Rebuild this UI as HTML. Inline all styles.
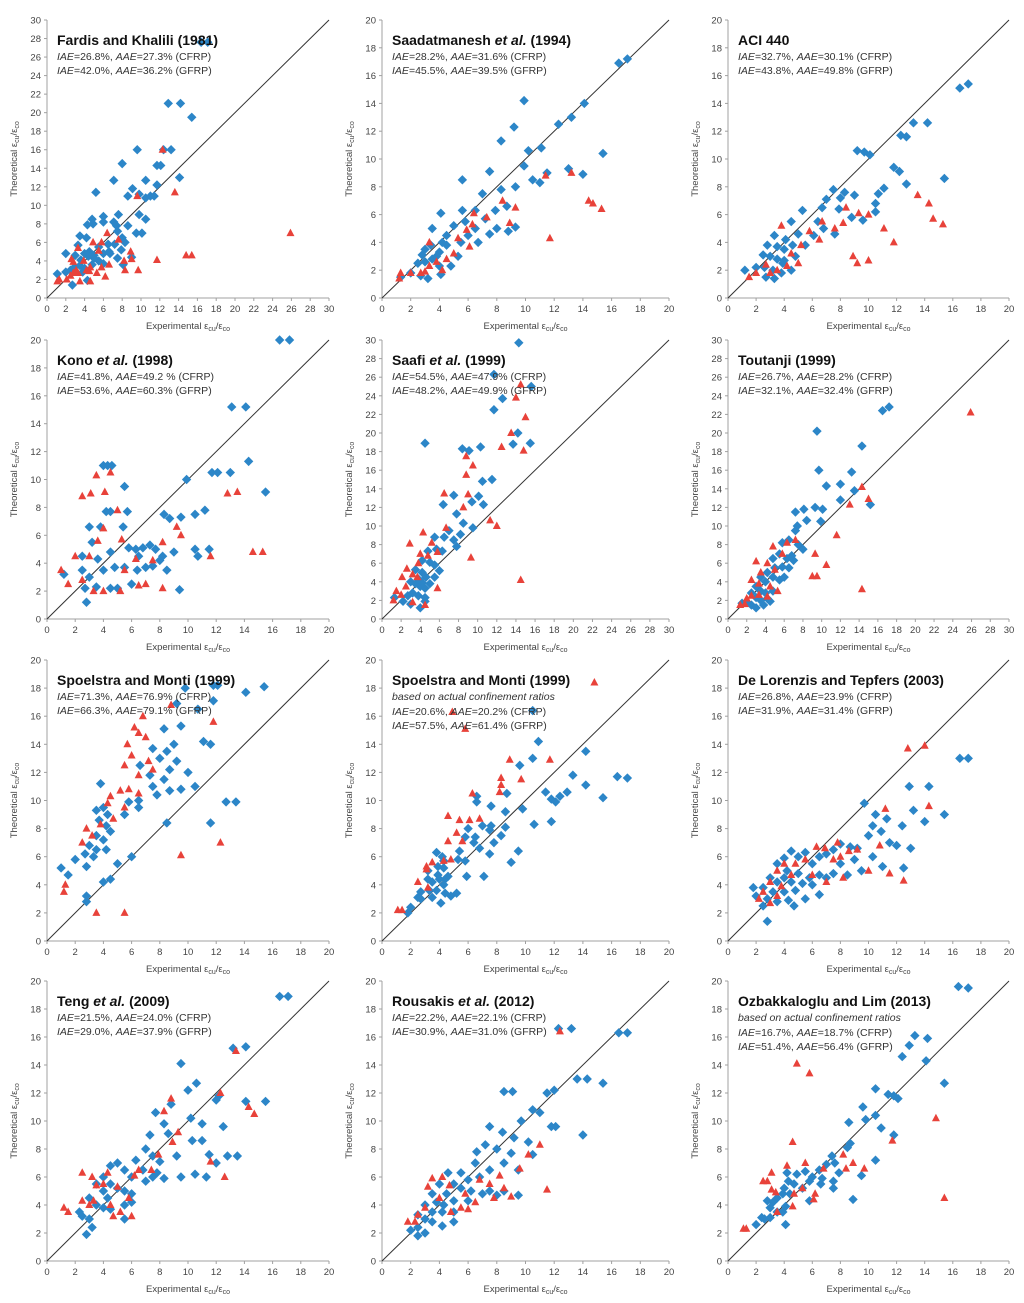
<!DOCTYPE html>
<html><head><meta charset="utf-8">
<style>
body{margin:0;background:#fff;width:1024px;height:1303px;overflow:hidden}
svg{display:block;font-family:"Liberation Sans",sans-serif}
</style></head>
<body>
<svg id="chart" width="1024" height="1303" viewBox="0 0 1024 1303"></svg>
<script>
// ---- data (experimental, theoretical) per panel ----
const blue1=[[16.4,27.6],[17.1,27.6],[12.9,21],[14.2,21],[15.4,19.5],[9.6,16],[12.4,16],[13.2,16],[8,14.5],[11.7,14.3],[12.1,14.3],[7.1,12.7],[10.5,12.7],[14.1,13],[11.7,12.2],[5.2,11.4],[9.1,11.8],[8.6,11],[10.5,10.8],[11,11],[11.4,11],[9.8,11.2],[6,8.8],[7.6,9],[9.8,9],[10.5,8.5],[4.8,8.5],[4.3,7.9],[4.9,8],[6,8.2],[7.1,8.2],[7.4,7.8],[8.6,7.8],[7.5,7.2],[9.5,7],[10.1,7],[3.5,6.7],[4.2,6.5],[3.3,5.7],[5.5,5.5],[6.5,5.8],[7.2,5.8],[8.3,6],[8,6.5],[2,4.8],[3,4.6],[4.5,5],[4,4.8],[5,4.6],[6,4.8],[6.6,5],[7.5,4.3],[7.9,5.2],[9,4.4],[2,2.8],[2.5,3],[2.9,3.3],[3.5,3.5],[4,3.2],[4.8,3.6],[5.5,4],[6,3.7],[6.7,4.8],[1.1,2.6],[2.7,1.4],[4.3,1.9],[3.8,2.8],[5,4.3],[8.1,3.6],[4.4,4.5],[3.6,4.1]];
const red1=[[12.3,16],[9.6,11],[13.6,11.4],[25.9,7],[14.8,4.6],[15.4,4.6],[11.7,4.1],[9.7,3],[8.9,5],[9,4.2],[8.2,4],[8.3,3],[6.4,7],[5.8,6],[4.9,6],[3.3,5.4],[5.5,5.1],[7.6,6.3],[6.2,2.3],[6.6,3.6],[5.3,2.7],[4.5,2.9],[4.6,1.8],[3.5,1.8],[2.5,2.4],[2.1,2],[1.3,2],[1.1,1.8],[2.8,3.9],[3.1,3],[3.9,4],[4.2,3],[3.3,2.7],[2.8,2.7],[5.8,3.3],[4.6,3.3],[2.6,4.2]];
const blue2=[[16.5,16.9],[17.1,17.2],[9.9,14.2],[14.1,14],[13.2,13],[12.3,12.5],[9.2,12.3],[8.3,11.3],[11.1,10.8],[15.4,10.4],[10.2,10.6],[7.5,9.1],[9.9,9.5],[11.5,9],[13,9.3],[14,8.9],[5.6,8.5],[7,7.5],[8.3,7.8],[9.3,8],[10.5,8.5],[11,8.3],[6.5,6.3],[5.6,6.3],[5.8,5.5],[7.9,6.3],[8.7,6.6],[4.1,6.1],[3.5,5],[4.5,4.5],[5,5.2],[6.5,5],[7.2,5.7],[7.5,4.6],[8,5],[8.8,4.8],[9.3,5.1],[3,3.5],[3.4,3.8],[4,3.3],[4.5,3.8],[5.5,4],[6,4.5],[6.7,4],[2.5,2.5],[3,2.6],[3.5,2.8],[4,2.3],[4.8,2.3],[5.3,3],[2,1.8],[2.7,1.6],[3.2,1.4],[4.1,1.7],[1.3,1.5],[3.8,3],[2.8,3.1],[4.2,4]];
const red2=[[13.2,9],[11.4,8.8],[14.4,7],[14.7,6.8],[15.3,6.4],[11.7,4.3],[9.3,6.5],[8.4,7],[8.9,5.4],[7.3,5.8],[6.4,6.1],[6.3,5.3],[5.9,4.9],[5.3,4.3],[6.1,3.7],[5,3.2],[4.5,2.8],[3.8,2.6],[3,1.9],[3.3,2.3],[2.7,1.8],[2,1.8],[1.3,1.8],[1.2,1.4],[4.2,2],[3.3,4]];
const blue3=[[16.5,15.1],[17.1,15.4],[13.2,12.6],[14.2,12.6],[12.3,11.7],[12.7,11.6],[9.2,10.6],[9.7,10.5],[10.1,10.3],[11.8,9.4],[12.2,9.1],[15.4,8.6],[7.5,7.8],[8.3,7.6],[9,7.4],[10.7,7.5],[11.1,7.9],[12.7,8.2],[7,7.1],[8,7.2],[10.5,6.8],[10.5,6.2],[5.3,6.3],[6.7,6.5],[7.9,6.4],[8.8,5.8],[9.6,5.6],[4.5,5.5],[6.4,5.5],[3.3,4.5],[4.1,4.2],[5,4.6],[6.1,4.5],[6.8,5],[7.6,4.6],[2.8,3.8],[3.5,3.7],[4,3.5],[4.6,3.8],[5.5,3.8],[2.5,3.1],[3,3],[3.5,2.8],[4,2.7],[4.8,3],[2,2.2],[2.6,2.2],[3.2,2],[3.8,1.8],[4.5,2],[1.2,2],[2.7,1.5],[3.3,1.4],[3.9,2.5]];
const red3=[[13.5,7.4],[14.3,6.8],[14.6,5.7],[15.3,5.3],[11.8,4],[11.1,5],[10,6],[9.3,6.1],[8.4,6.5],[8.2,5.4],[7.6,5],[6.7,5.5],[6.5,4.2],[5.8,4.8],[5.2,3.8],[5,2.5],[4.5,3.2],[4.2,2.3],[3.5,2],[3,1.8],[2.7,2.4],[1.5,1.5],[2,1.8],[3.8,5.2],[8.9,3],[10,2.7],[9.2,2.5]];
const blue4=[[16.5,20],[17.2,20],[13.1,15.2],[14.1,15.2],[14.3,11.3],[15.5,9.1],[11.7,10.5],[12.1,10.5],[13,10.5],[9.9,10],[4,11],[4.3,11],[4.6,11],[5.5,9.5],[4.2,7.7],[4.5,7.7],[5.7,7.7],[3,6.6],[3.8,6.6],[5.4,6.6],[8.3,7.5],[8.7,7.2],[9.5,7.3],[10.5,7.5],[11.2,7.8],[2.5,4.5],[3.2,5.5],[3.6,4.3],[4.5,4.8],[5.8,5.1],[6.3,5],[6.8,5.1],[7.3,5.3],[7.7,5],[8.2,4.5],[9,4.8],[10.5,5],[10.7,4.5],[11.5,5],[2.5,3.5],[3,3],[4,3.5],[4.8,3.7],[5.5,3.7],[6.4,3.5],[7,3.7],[7.5,3.8],[8.5,3.5],[2.7,2.2],[3.5,2.3],[4.5,2.2],[5,2.2],[6,2.5],[9.4,2.1],[1.2,3.2],[2.8,1.2],[8,4.2],[6.5,4.5]];
const red4=[[12.8,9],[13.5,9.1],[14.6,4.8],[15.3,4.8],[11.6,4.5],[9.2,6.6],[9.5,6],[8.2,5.5],[7.5,4.2],[6.3,4.3],[5.3,5.7],[5,7.8],[4.5,10.5],[4.1,9.1],[3.5,10.3],[3.1,9],[2.5,8.8],[4,6.5],[3.6,5.6],[3,4.5],[2,4.5],[1,3.5],[1.5,2.5],[2.5,2.8],[3.3,2],[4,2],[5.5,3.5],[5.2,2],[6.5,2.4],[7,2.5],[8.2,2.2]];
const blue5=[[14.3,29.7],[11.7,26.3],[15.6,25],[11.7,22.5],[12.6,23.7],[14.2,20],[15.5,18.9],[13.7,18.8],[8.4,18.3],[9.1,18.1],[4.5,18.9],[10.3,18.5],[11.5,15],[10.5,14.8],[10.1,13.2],[7.5,13.3],[9.4,12.6],[10.6,12.3],[6.4,12.3],[7.8,11.3],[8.5,10.3],[7,9.5],[8.2,9.1],[9.5,9.8],[5.5,8.8],[6.5,8.8],[7.5,8.5],[4.8,7.3],[5.7,7.5],[6.3,7.3],[7.8,7.8],[4.2,6.3],[5,6.1],[5.5,5.8],[3.5,5.3],[4.2,5],[4.6,4.5],[3,4],[3.5,3.8],[4,3.5],[4.5,3.3],[5,3.8],[2.7,2.5],[3.2,2.8],[3.8,2.5],[4.5,2.3],[1.3,2.3],[2.2,1.9],[3,1.6],[4,1.2],[4.5,1.9],[5.5,4.5],[6,5.2],[3.8,4.3],[4.2,3.9]];
const red5=[[14.5,25.2],[14,23.8],[15,21.7],[13.5,20],[12.5,18.5],[14.8,18.1],[8.8,17.5],[9.5,16.5],[8.8,15.5],[9,13.4],[6.5,13.5],[8.5,12],[11.3,10.6],[12,10],[9.3,6.6],[6.7,9.8],[5.2,8.2],[4.3,9.3],[2.9,8.1],[4,7],[4.8,6.8],[5.8,7.2],[2.6,5.4],[3.2,4.8],[3.7,4.5],[2.1,4.5],[2.5,3.5],[1.5,3],[1.2,2],[2,2.6],[3.2,1.8],[4.5,1.5],[14.5,4.2],[5.8,3.3],[3.8,6]];
const blue6=[[16.5,22.4],[17.2,22.8],[14.3,18.6],[9.5,20.2],[9.7,16],[13.2,15.8],[12,14.5],[10.5,14.3],[8.1,11.8],[9.3,12],[10.1,11.8],[12,12.8],[13.5,13.8],[15.2,12.3],[7.2,11.5],[7.4,10],[8.4,10.6],[9.9,10.5],[7.2,9.5],[5.8,8.2],[6.5,8.5],[7.5,8],[8,7.5],[5.5,7],[6.3,6.5],[7,6.3],[4.8,6.5],[5,5.5],[5.8,5.6],[6.5,5.5],[4.2,5],[4.8,4.5],[5.5,4.2],[3.5,4.5],[4,4],[3,3.5],[3.5,3],[4,2.8],[4.8,3],[2.5,2.8],[3,2.3],[3.5,2],[4.2,2.2],[1.5,1.7],[2,1.8],[2.5,1.5],[3,1.2],[3.8,1.5],[4.5,1.9],[6,4.5],[6.8,6.8]];
const red6=[[25.9,22.2],[14.3,14.2],[15,12.9],[13,12.3],[11.6,9],[9.3,7],[9,4.6],[9.5,4.6],[14.3,3.2],[10.5,5.8],[7.2,8.5],[6.3,8.2],[5.8,7],[4.8,7.8],[3,6.2],[4.2,6],[3.5,5],[5,5.3],[2.5,4.2],[3.3,3.8],[4.5,3.5],[2,2.2],[1.8,1.6],[2.5,2.5],[3.3,2.6],[4.2,2.4],[5.3,3],[1.3,1.5]];
const blue7=[[15.4,18.1],[14.1,17.7],[11.8,18.2],[12.1,18.2],[9.8,18],[11.8,17.1],[9.2,16.9],[10.7,16.5],[9.5,15.3],[8.3,15.1],[11.1,14.2],[11.6,14],[9,14],[7.5,13.7],[8.5,13.5],[8,13],[9.2,12.8],[8.7,12.2],[6.6,12.5],[7.3,11.8],[10,12],[8.3,11.5],[7.5,11],[9.5,10.8],[10.5,11],[8.7,10.7],[6.5,10],[7.8,10.4],[12.7,9.9],[13.4,9.9],[11.6,8.4],[8.5,8.4],[5.8,9.9],[6.5,9.5],[5.5,9],[3.8,11.2],[3.5,9.3],[4,9.5],[4.3,9],[3.7,8.6],[4.2,8.2],[4.5,7.8],[3.5,7.5],[4,7.2],[3,6.8],[3.5,6.5],[2.7,6.2],[3.3,6],[2,5.8],[1,5.2],[1.5,4.7],[2.8,5.3],[6,6],[4.5,4.4],[5,5.5],[2.8,3.2],[2.8,2.8],[4,4.2],[4.2,6.5]];
const red7=[[8.8,16.8],[6.8,16],[6.2,15.2],[7,14.5],[6.5,14.8],[5.7,14],[6,13.2],[5.5,12.5],[7.2,12.8],[6.5,11.8],[7.5,12.2],[5.8,10.8],[5.2,10.7],[6.5,10.5],[4.5,10.3],[5.5,9.5],[4.3,9.8],[4.7,8.7],[3.8,8.3],[3.2,7.5],[2.5,7],[2.8,8],[1.3,4],[1.2,3.5],[12.3,7],[9.5,6.1],[3.5,2],[5.5,2],[11.8,15.6]];
const blue8=[[10.5,16.4],[10.9,14.2],[14.2,13.5],[10.5,13],[9.6,12.5],[13.3,11.8],[16.4,11.7],[17.1,11.6],[14.2,11.1],[11.4,10.6],[12.9,10.6],[12.4,10.3],[15.4,10.2],[11.8,10.1],[12.1,9.9],[8.7,10.5],[6.6,10.3],[6.6,9.9],[7.6,9.6],[9.8,9.4],[8.6,9.2],[11.8,8.5],[10.6,8.3],[8.6,8.1],[7,8.2],[7.6,8.2],[7.5,7.9],[6,8],[5.8,7.4],[6.5,7.4],[8.3,7.5],[7.8,7],[6.8,6.6],[6.4,7],[9.5,6.4],[7.5,6.2],[5.4,6.4],[3.8,6.3],[4.2,6],[5.3,5.8],[5.8,5.7],[4.3,5.7],[3.9,5.3],[4.3,5.2],[4.6,4.6],[4.4,4.4],[3.2,5],[3.2,4.4],[3.5,4.2],[4,4.4],[3.9,4.7],[4.3,4],[5.9,4.6],[7.1,4.6],[9,5.6],[3.8,3.6],[2.7,3.5],[3.3,3.6],[4.4,3.4],[3.5,3.1],[2.5,3.1],[2.7,3],[4.8,3.2],[5.2,3.4],[4.1,2.7],[2,2.4],[1.8,2]];
const red8=[[14.8,18.4],[4.9,16.3],[5.8,15.1],[8.9,12.9],[11.7,12.9],[8.3,11.6],[8.3,11.1],[9.7,11.5],[6.3,10.5],[8.2,10.6],[4.6,8.9],[5.4,8.6],[6.1,8.6],[6.8,8.7],[5.2,7.7],[4.6,7.1],[5.6,7.1],[3.5,5.6],[4.3,5.7],[4.8,5.8],[3.1,5.3],[3.1,5.1],[2.5,4.2],[3.2,3.8],[1.1,2.2],[1.4,2.2]];
const blue9=[[16.5,13],[17.1,13],[14.3,11],[12.9,11],[15.4,9],[13.2,9.3],[10.5,9],[9.7,9.8],[11.3,8.7],[10.3,8.2],[12.4,8.2],[14,8.5],[10.9,7.8],[8.7,6.7],[9.2,6.6],[8,6.9],[10,7.5],[11.5,7],[12,6.8],[10.3,6],[13,6.6],[7.5,6.5],[7,6.2],[6.5,6],[8,5.5],[9,5.8],[9.5,5],[11,5.3],[12.5,5.2],[5.5,6.3],[4.5,6.4],[5,6],[4,5.9],[6,5.5],[3.5,5.5],[4.2,5],[5,4.8],[5.8,4.5],[6.5,4.7],[7,4.5],[7.5,4.8],[8.5,4.7],[3,4.5],[3.5,4.2],[4,4.5],[4.5,4.2],[5.3,4.1],[6,4],[2.5,3.8],[3.2,3.5],[4,3.5],[4.8,3.6],[2,3.2],[2.8,3],[3.5,2.8],[4.3,2.9],[5.5,3],[6.5,3.3],[1.8,3.8],[2.5,2.5],[2.8,1.4],[4.7,2.5]];
const red9=[[14,13.9],[12.8,13.7],[14.3,9.6],[11.2,9.4],[10.8,6.8],[7.8,7],[9.2,6.5],[8.6,6.4],[6.9,6.6],[6.3,6.7],[7.5,5.8],[10,5],[11.5,4.8],[12.5,4.3],[8.2,4.5],[7,4.2],[5.5,5.8],[6,4.7],[4,5.5],[4.8,5.5],[3.5,5],[4.5,4.7],[3,4.2],[3.8,3.9],[2.5,3.5],[2.2,3],[3,2.7],[3.5,3.2],[8,6]];
const blue10=[[16.5,18.9],[17.1,18.9],[13.2,15.2],[14.1,15.3],[9.5,14.1],[10.6,12.7],[12,11.5],[10,12.2],[12.2,11.8],[14.1,11.4],[15.5,11.4],[8.8,11.2],[7.7,10.6],[8.3,9.8],[10.2,10.2],[11,9.8],[12.5,9.6],[7.3,9],[8.6,9.1],[10.3,8.6],[11,8.6],[7,8],[7.5,7.5],[8,7.1],[9.2,7.5],[11.5,7.6],[12.8,7.5],[13.5,7.5],[6.3,7.2],[6.8,6.5],[7.8,6.3],[8.3,5.9],[9.5,6],[10.5,6.2],[11.3,6],[12,7],[5,7],[5.5,6.5],[6,6],[7,5.7],[7.5,6],[4.5,6.8],[4,6],[4.5,5.5],[5,5.2],[5.5,5],[6,4.8],[3.5,5.5],[4,5],[4.3,4.5],[3,4.5],[3.5,4],[4,3.8],[4.5,3.7],[5.5,4],[2.3,3.5],[2.5,3.2],[3,3],[3.2,2.4],[2.8,1.9],[5.5,3],[6,4.2]];
const red10=[[13.4,15],[12.3,12],[14.3,11],[14.7,10.5],[12.6,6],[11.6,7.1],[9.3,9.2],[8.9,8.5],[8.8,11.6],[8.3,10.7],[7.9,7.6],[7.4,6.5],[6.5,6.5],[6.2,6.1],[5.8,4.5],[6,3.2],[5.2,3.5],[5,5.3],[4.5,4],[4.3,6.3],[4,5.5],[3.5,5.4],[2.5,6.3],[3.2,6],[2.5,4.3],[3,4],[1.5,3.5],[1.2,3.8],[4.7,3.2],[3.3,4.3]];
const blue11=[[16.5,16.3],[17.1,16.3],[12.3,16.6],[13.2,16.6],[13.6,13],[14.3,13],[15.4,12.7],[11.5,12],[12,12.2],[8.5,12.1],[9.1,12.1],[14,9],[11.8,9.6],[12.1,9.6],[9.7,10],[10.5,10.8],[11,10.6],[7.5,9.6],[8.4,9.2],[9.2,8.8],[10.2,8.5],[7.2,8.3],[8,8],[9,7.7],[10.5,7.6],[6.6,7.8],[6.5,7],[7.5,6.5],[8.5,7],[9.5,6.5],[5.5,6.3],[6,5.8],[6.8,6],[4.6,6.3],[5,5.5],[5.5,5.2],[6.2,5],[7,4.8],[7.5,5],[8,4.7],[8.5,5],[4,5.5],[4.5,4.8],[5,4.3],[6,4.3],[3.5,4.8],[3.8,4.2],[4.3,4],[3,4],[3.5,3.5],[4.2,3.5],[5,3.5],[2.5,3.3],[3,3],[3.5,2.8],[4.2,2.5],[5,2.8],[2.5,2.4],[3,2],[2,2.2],[2.5,1.8],[9.5,4.7]];
const red11=[[12.4,16.4],[11,8.3],[10.2,7.6],[9.6,6.6],[11.5,5.1],[8.2,6.1],[8.5,5.2],[9,4.6],[7.5,5.5],[7.8,4.5],[6.8,5.8],[6.5,4.2],[5.8,4.8],[5.5,3.8],[4.7,5.4],[4.2,6],[3.5,5.9],[3.2,5.3],[4,4.5],[3,3.8],[2.5,3.3],[2.3,2.8],[1.8,2.8],[4.8,3.5],[6,3.7]];
const blue12=[[16.4,19.6],[17.1,19.5],[13.3,16.1],[14.2,15.9],[12.9,15.4],[12.4,14.6],[14.1,14.3],[10.5,12.3],[11.4,11.9],[11.8,11.8],[12.1,11.6],[15.4,12.7],[9.6,11],[10.5,10.4],[9.8,10.1],[10.9,9.5],[11.8,9],[8.6,9.9],[8.7,8.4],[8.5,8.1],[10.5,7.2],[7.4,7.5],[7.6,7],[7.9,6.3],[7,6.9],[6.5,6.5],[6.7,5.9],[7.5,5.7],[7.5,5.2],[9.5,6.1],[8.9,4.4],[6,6],[5.5,6.4],[5.8,5.7],[6.6,5.5],[4.9,6.2],[4.2,6.3],[4.3,5.7],[4.7,5.5],[4,5.2],[5.3,5.2],[4.4,4.8],[3.5,4.5],[3.9,4.8],[3.2,4.2],[2.8,4.3],[3,3.8],[3.5,3.5],[4.1,3.9],[3.9,3.5],[2.4,3.1],[2.6,3],[3,3.1],[2,2.6],[4.1,2.6],[5.8,4.3]];
const red12=[[4.9,14.1],[5.8,13.4],[8.2,7.6],[11.7,8.6],[14.8,10.2],[15.4,4.5],[4.6,8.5],[8.4,6.6],[8.9,7],[9.7,6.6],[6.8,6.6],[5.5,7],[4.2,6.8],[3.1,6.3],[2.5,5.7],[2.8,5.7],[3.1,5.1],[3.4,4.9],[4.6,3.9],[5.3,5.2],[4.7,4.8],[6.2,4.8],[6.1,4.4],[3.5,3.5],[1.1,2.3],[1.3,2.3]];
const titles=["Fardis and Khalili (1981)","Saadatmanesh et al. (1994)","ACI 440","Kono et al. (1998)","Saafi et al. (1999)","Toutanji (1999)","Spoelstra and Monti (1999)","Spoelstra and Monti (1999)","De Lorenzis and Tepfers (2003)","Teng et al. (2009)","Rousakis et al. (2012)","Ozbakkaloglu and Lim (2013)"];
const cfrpIAE=["26.8%","28.2%","32.7%","41.8%","54.5%","26.7%","71.3%","20.6%","26.8%","21.5%","22.2%","16.7%"];
const cfrpAAE=["27.3%","31.6%","30.1%","49.2 %","47.9%","28.2%","76.9%","20.2%","23.9%","24.0%","22.1%","18.7%"];
const gfrpIAE=["42.0%","45.5%","43.8%","53.6%","48.2%","32.1%","66.3%","57.5%","31.9%","29.0%","30.9%","51.4%"];
const gfrpAAE=["36.2%","39.5%","49.8%","60.3%","49.9%","32.4%","79.1%","61.4%","31.4%","37.9%","31.0%","56.4%"];
const axisMax=[30,20,20,20,30,30,20,20,20,20,20,20];
const blues=[blue1,blue2,blue3,blue4,blue5,blue6,blue7,blue8,blue9,blue10,blue11,blue12];
const reds=[red1,red2,red3,red4,red5,red6,red7,red8,red9,red10,red11,red12];

// layout
const colX=[[47,329],[382,669],[728,1009]];
const rowY=[[20,298],[340,619],[660,941],[981,1261]];
const NS="http://www.w3.org/2000/svg";
const svg=document.getElementById('chart');
function mk(tag,attrs,parent){const e=document.createElementNS(NS,tag);for(const k in attrs)e.setAttribute(k,attrs[k]);(parent||svg).appendChild(e);return e;}

for(let p=0;p<12;p++){
  const [x0,x1]=colX[p%3],[yT,yB]=rowY[Math.floor(p/3)];
  const m=axisMax[p];
  const sx=v=>x0+(x1-x0)*v/m, sy=v=>yB-(yB-yT)*v/m;
  const g=mk('g',{});
  
  
  const ax=mk('path',{d:`M${x0},${yT} V${yB} H${x1}`,stroke:'#a0a0a0','stroke-width':1,fill:'none'},g);
  
  
  for(let v=0;v<=m;v+=2){
    mk('line',{x1:x0-3,x2:x0,y1:sy(v),y2:sy(v),stroke:'#a0a0a0'},g);
    mk('line',{x1:sx(v),x2:sx(v),y1:yB,y2:yB+3,stroke:'#a0a0a0'},g);
    const ty=mk('text',{x:x0-6,y:sy(v)+3.5,'text-anchor':'end','font-size':9.5,fill:'#444'},g);ty.textContent=v;
    
    
    const tx=mk('text',{x:sx(v),y:yB+14,'text-anchor':'middle','font-size':9.5,fill:'#444'},g);tx.textContent=v;
    
    
  }
  const dl=mk('line',{x1:sx(0),y1:sy(0),x2:sx(m),y2:sy(m),stroke:'#333','stroke-width':1},g);
  
  
  const xt=mk('text',{x:(x0+x1)/2,y:yB+31,'text-anchor':'middle','font-size':9.5,fill:'#444'},g);
  xt.innerHTML='Experimental  ε<tspan font-size="7" dy="2">cu</tspan><tspan dy="-2">/ε</tspan><tspan font-size="7" dy="2">co</tspan>';
  
  
  const cy=(yT+yB)/2;
  const yt=mk('text',{x:x0-30,y:cy,'text-anchor':'middle','font-size':9.5,fill:'#444',transform:`rotate(-90 ${x0-30} ${cy})`},g);
  yt.innerHTML='Theoretical  ε<tspan font-size="7" dy="2">cu</tspan><tspan dy="-2">/ε</tspan><tspan font-size="7" dy="2">co</tspan>';
  
  
  // points
  for(const [a,b] of blues[p]){
    const X=sx(a),Y=sy(b);
    const d=mk('path',{d:`M${X},${Y-4.7} L${X+4.7},${Y} L${X},${Y+4.7} L${X-4.7},${Y} Z`,fill:'#2c86c8'},g);
    
    
  }
  for(const [a,b] of reds[p]){
    const X=sx(a),Y=sy(b);
    const t=mk('path',{d:`M${X},${Y-4.5} L${X+4},${Y+3} L${X-4},${Y+3} Z`,fill:'#e8423a'},g);
    
    
  }
  // title and stats
  const tx0=x0+10; let ty0=yT+25;
  const tt=mk('text',{x:tx0,y:ty0,'font-size':14,'font-weight':'bold',fill:'#111'},g);
  const tl=titles[p];
  const mm=tl.match(/^(.*) et al\. (.*)$/);
  if(mm){tt.innerHTML=mm[1]+' <tspan font-style="italic">et al.</tspan> '+mm[2];}else tt.textContent=tl;
  
  
  if(p===7||p===11){ty0+=15;const s=mk('text',{x:tx0,y:ty0,'font-size':10.5,'font-style':'italic',fill:'#333'},g);s.textContent='based on actual confinement ratios';
    
    }
  ty0+=15;
  const l1=mk('text',{x:tx0,y:ty0,'font-size':10.5,fill:'#333'},g);
  l1.innerHTML=`<tspan font-style="italic">IAE</tspan>=${cfrpIAE[p]}, <tspan font-style="italic">AAE</tspan>=${cfrpAAE[p]} (CFRP)`;
  
  
  ty0+=14;
  const l2=mk('text',{x:tx0,y:ty0,'font-size':10.5,fill:'#333'},g);
  l2.innerHTML=`<tspan font-style="italic">IAE</tspan>=${gfrpIAE[p]}, <tspan font-style="italic">AAE</tspan>=${gfrpAAE[p]} (GFRP)`;
  
  
}
</script>
</body></html>
